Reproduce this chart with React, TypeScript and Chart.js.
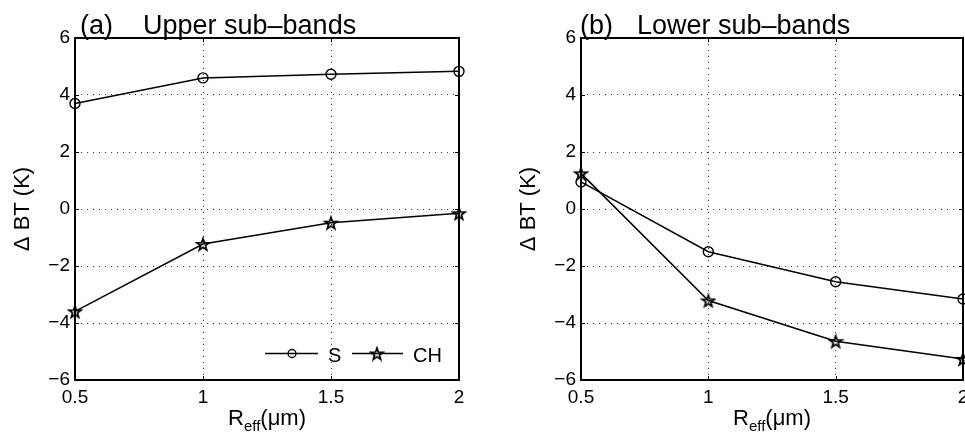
import React, { useEffect, useRef } from "react";
import { Chart, registerables } from "chart.js";

Chart.register(...registerables);

// ---------- data ----------
const xValues = [0.5, 1, 1.5, 2];
const xTickLabels = ["0.5", "1", "1.5", "2"];
const yTickValues = [-6, -4, -2, 0, 2, 4, 6];

const upperS = [3.7, 4.6, 4.73, 4.83];
const upperCH = [-3.59, -1.23, -0.48, -0.15];
const lowerS = [0.95, -1.5, -2.55, -3.16];
const lowerCH = [1.25, -3.21, -4.64, -5.26];

const seriesNames = ["S", "CH"];
const panelTags = ["(a)", "(b)"];
const panelTitles = ["Upper sub\u2013bands", "Lower sub\u2013bands"];
const yAxisTitle = "\u0394 BT (K)";
const xAxisMain = "R";
const xAxisSub = "eff";
const xAxisUnit = "(\u03bcm)";

const FONT = '"Liberation Sans", Arial, Helvetica, sans-serif';

function makeStar(size: number, lw: number): HTMLCanvasElement {
  const c = document.createElement("canvas");
  c.width = size;
  c.height = size;
  const ctx = c.getContext("2d")!;
  const R = size / 2 - lw;
  const r = R * 0.4;
  ctx.beginPath();
  for (let i = 0; i < 10; i++) {
    const ang = -Math.PI / 2 + (i * Math.PI) / 5;
    const rad = i % 2 === 0 ? R : r;
    const x = size / 2 + rad * Math.cos(ang);
    const y = size / 2 + rad * Math.sin(ang) + 0.8;
    if (i === 0) ctx.moveTo(x, y);
    else ctx.lineTo(x, y);
  }
  ctx.closePath();
  ctx.lineWidth = lw;
  ctx.lineJoin = "miter";
  ctx.strokeStyle = "#000";
  ctx.stroke();
  return c;
}

type PanelProps = {
  left: number; // page x of canvas
  plotWidth: number;
  sValues: number[];
  chValues: number[];
  tag: string;
  title: string;
  tagOffset: number;
  titleOffset: number;
  showLegend: boolean;
};

const TOP = 38;
const CANVAS_H = 435;
const Y_AXIS_W = 75;
const X_AXIS_H = 55;
const RIGHT_PAD = 40;

function Panel(p: PanelProps) {
  const ref = useRef<HTMLCanvasElement | null>(null);
  const width = Y_AXIS_W + p.plotWidth + RIGHT_PAD;

  useEffect(() => {
    const canvas = ref.current!;
    const star = makeStar(16, 1.7);

    const decor = {
      id: "decor",
      beforeDatasetsDraw(chart: any) {
        const { ctx, chartArea } = chart;
        const { left, right, top, bottom } = chartArea;
        ctx.save();
        ctx.strokeStyle = "#000";
        ctx.lineWidth = 1;
        const tl = 4;
        chart.scales.x.ticks.forEach((t: any) => {
          const px = Math.round(chart.scales.x.getPixelForValue(t.value)) + 0.5;
          ctx.beginPath();
          ctx.moveTo(px, bottom);
          ctx.lineTo(px, bottom - tl);
          ctx.moveTo(px, top);
          ctx.lineTo(px, top + tl);
          ctx.stroke();
        });
        chart.scales.y.ticks.forEach((t: any) => {
          const py = Math.round(chart.scales.y.getPixelForValue(t.value)) + 0.5;
          ctx.beginPath();
          ctx.moveTo(left, py);
          ctx.lineTo(left + tl, py);
          ctx.moveTo(right, py);
          ctx.lineTo(right - tl, py);
          ctx.stroke();
        });
        ctx.lineWidth = 2;
        ctx.strokeRect(left, top, right - left, bottom - top);
        ctx.restore();
      },
      afterDraw(chart: any) {
        const { ctx, chartArea } = chart;
        const { left, right, bottom } = chartArea;
        ctx.save();
        ctx.fillStyle = "#000";
        ctx.textBaseline = "alphabetic";
        ctx.textAlign = "left";
        // panel title
        ctx.font = `27px ${FONT}`;
        ctx.fillText(p.tag, left + p.tagOffset, 34);
        ctx.fillText(p.title, left + p.titleOffset, 34);
        // x axis title with subscript
        ctx.font = `22px ${FONT}`;
        const wR = ctx.measureText(xAxisMain).width;
        const wU = ctx.measureText(xAxisUnit).width;
        ctx.font = `15px ${FONT}`;
        const wS = ctx.measureText(xAxisSub).width;
        const total = wR + wS + wU;
        const x0 = (left + right) / 2 - total / 2;
        const base = 425;
        ctx.font = `22px ${FONT}`;
        ctx.fillText(xAxisMain, x0, base);
        ctx.font = `15px ${FONT}`;
        ctx.fillText(xAxisSub, x0 + wR, base + 6);
        ctx.font = `22px ${FONT}`;
        ctx.fillText(xAxisUnit, x0 + wR + wS, base);

        if (p.showLegend) {
          const ly = bottom - 26.5;
          const items = [
            { x1: right - 194, x2: right - 141, mx: right - 167, tx: right - 131, ds: chart.data.datasets[0] },
            { x1: right - 107, x2: right - 56, mx: right - 82, tx: right - 46, ds: chart.data.datasets[1] },
          ];
          items.forEach((it) => {
            ctx.strokeStyle = it.ds.borderColor;
            ctx.lineWidth = it.ds.borderWidth;
            ctx.beginPath();
            ctx.moveTo(it.x1, ly);
            ctx.lineTo(it.x2, ly);
            ctx.stroke();
            if (it.ds.pointStyle === "circle") {
              ctx.lineWidth = 1.3;
              ctx.beginPath();
              ctx.arc(it.mx, ly, 4, 0, Math.PI * 2);
              ctx.stroke();
            } else {
              const img = it.ds.pointStyle as HTMLCanvasElement;
              ctx.drawImage(img, it.mx - img.width / 2, ly - img.height / 2);
            }
            ctx.fillStyle = "#000";
            ctx.font = `20px ${FONT}`;
            ctx.fillText(it.ds.label, it.tx, ly + 8);
          });
        }
        ctx.restore();
      },
    };

    const chart = new Chart(canvas, {
      type: "line",
      data: {
        datasets: [
          {
            label: seriesNames[0],
            data: xValues.map((x, i) => ({ x, y: p.sValues[i] })),
            borderColor: "#000",
            borderWidth: 1.5,
            pointStyle: "circle",
            pointRadius: 5,
            pointBorderWidth: 1.4,
            pointBorderColor: "#000",
            pointBackgroundColor: "rgba(0,0,0,0)",
            tension: 0,
            clip: false as any,
          },
          {
            label: seriesNames[1],
            data: xValues.map((x, i) => ({ x, y: p.chValues[i] })),
            borderColor: "#000",
            borderWidth: 1.5,
            pointStyle: star as any,
            pointRadius: 6,
            pointBorderColor: "#000",
            pointBackgroundColor: "rgba(0,0,0,0)",
            tension: 0,
            clip: false as any,
          },
        ],
      },
      options: {
        responsive: false,
        animation: false,
        devicePixelRatio: 1,
        layout: { padding: { left: 0, top: TOP, right: RIGHT_PAD, bottom: 0 } },
        plugins: {
          legend: { display: false },
          tooltip: { enabled: false },
          title: { display: false },
        },
        scales: {
          x: {
            type: "linear",
            min: 0.5,
            max: 2,
            afterBuildTicks: (s: any) => {
              s.ticks = xValues.map((v) => ({ value: v }));
            },
            afterFit: (s: any) => {
              s.height = X_AXIS_H;
            },
            ticks: {
              callback: (_v: any, i: number) => xTickLabels[i],
              font: { size: 19, family: FONT },
              color: "#000",
              padding: 6,
              maxRotation: 0,
              autoSkip: false,
            },
            grid: { color: "#333", lineWidth: 1, drawTicks: false, borderDash: [1, 5] } as any,
            border: { display: false, dash: [1, 5] },
          },
          y: {
            type: "linear",
            min: -6,
            max: 6,
            afterBuildTicks: (s: any) => {
              s.ticks = yTickValues.map((v) => ({ value: v }));
            },
            afterFit: (s: any) => {
              s.width = Y_AXIS_W;
            },
            ticks: {
              callback: (v: any) => String(v).replace("-", "\u2212"),
              font: { size: 19, family: FONT },
              color: "#000",
              padding: 5,
              autoSkip: false,
            },
            title: {
              display: true,
              text: yAxisTitle,
              font: { size: 22, family: FONT },
              color: "#000",
              padding: { top: 10, bottom: 0 },
            },
            grid: { color: "#333", lineWidth: 1, drawTicks: false, borderDash: [1, 5] } as any,
            border: { display: false, dash: [1, 5] },
          },
        },
      },
      plugins: [decor],
    } as any);

    return () => chart.destroy();
  }, []);

  return (
    <canvas
      ref={ref}
      width={width}
      height={CANVAS_H}
      style={{ position: "absolute", left: p.left, top: 0, width, height: CANVAS_H }}
    />
  );
}

export default function App() {
  return (
    <div
      style={{
        position: "fixed",
        left: 0,
        top: 0,
        width: 965,
        height: 435,
        overflow: "hidden",
        background: "#fff",
      }}
    >
      <Panel
        left={0}
        plotWidth={384}
        sValues={upperS}
        chValues={upperCH}
        tag={panelTags[0]}
        title={panelTitles[0]}
        tagOffset={5}
        titleOffset={68}
        showLegend={true}
      />
      <Panel
        left={506}
        plotWidth={382}
        sValues={lowerS}
        chValues={lowerCH}
        tag={panelTags[1]}
        title={panelTitles[1]}
        tagOffset={-1}
        titleOffset={56}
        showLegend={false}
      />
    </div>
  );
}
